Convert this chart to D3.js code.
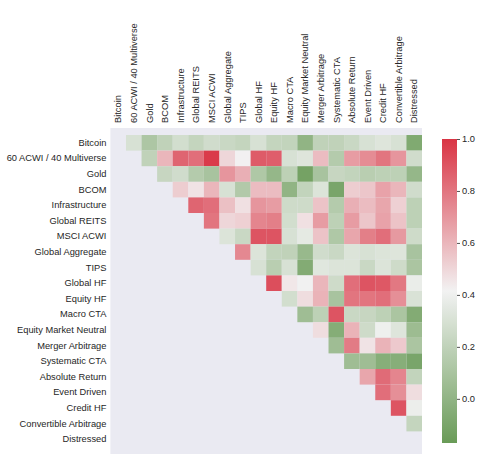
<!DOCTYPE html>
<html>
<head>
<meta charset="utf-8">
<script src="https://cdn.jsdelivr.net/npm/d3@7"></script>
<style>
  body { margin: 0; background: #fff; }
  text { font-family: "Liberation Sans", Arial, sans-serif; }
</style>
</head>
<body>
<svg id="chart"></svg>
<script>
// asset names, same order on both axes
const assets = ["Bitcoin", "60 ACWI / 40 Multiverse", "Gold", "BCOM", "Infrastructure",
    "Global REITS", "MSCI ACWI", "Global Aggregate", "TIPS", "Global HF", "Equity HF",
    "Macro CTA", "Equity Market Neutral", "Merger Arbitrage", "Systematic CTA",
    "Absolute Return", "Event Driven", "Credit HF", "Convertible Arbitrage", "Distressed"];

// upper triangle, row i holds correlations with assets i+1 .. end
const corrRows = [
    [0.30, 0.12, 0.20, 0.28, 0.22, 0.27, 0.24, 0.22, 0.30, 0.22, 0.21, 0.00, 0.20, 0.20, 0.24, 0.30, 0.33, 0.30, -0.07],
    [0.20, 0.60, 0.85, 0.82, 0.98, 0.50, 0.42, 0.88, 0.87, 0.30, 0.33, 0.58, 0.15, 0.68, 0.73, 0.80, 0.70, 0.27],
    [0.23, 0.27, 0.15, 0.10, 0.70, 0.62, 0.13, 0.02, 0.19, -0.12, 0.10, 0.23, 0.21, 0.17, 0.19, 0.19, 0.02],
    [0.53, 0.46, 0.60, 0.30, 0.14, 0.58, 0.58, 0.00, 0.21, 0.32, -0.10, 0.53, 0.55, 0.66, 0.60, 0.27],
    [0.85, 0.82, 0.57, 0.47, 0.70, 0.68, 0.26, 0.26, 0.56, 0.15, 0.62, 0.58, 0.65, 0.52, 0.19],
    [0.80, 0.50, 0.52, 0.75, 0.77, 0.28, 0.47, 0.68, 0.19, 0.68, 0.55, 0.66, 0.56, 0.19],
    [0.32, 0.24, 0.90, 0.90, 0.30, 0.36, 0.56, 0.13, 0.65, 0.77, 0.82, 0.69, 0.26],
    [0.74, 0.32, 0.21, 0.20, 0.03, 0.27, 0.24, 0.32, 0.30, 0.32, 0.33, 0.10],
    [0.30, 0.17, 0.30, -0.06, 0.34, 0.32, 0.32, 0.24, 0.32, 0.26, 0.11],
    [0.92, 0.45, 0.41, 0.60, 0.26, 0.82, 0.90, 0.89, 0.79, 0.38],
    [0.28, 0.48, 0.61, 0.10, 0.80, 0.80, 0.82, 0.72, 0.31],
    [0.06, 0.19, 0.90, 0.24, 0.23, 0.19, 0.11, -0.06],
    [0.48, -0.05, 0.61, 0.26, 0.40, 0.33, 0.05],
    [0.06, 0.78, 0.46, 0.61, 0.54, 0.11],
    [0.06, 0.06, -0.04, -0.04, -0.10],
    [0.65, 0.83, 0.75, 0.21],
    [0.82, 0.72, 0.48],
    [0.90, 0.39],
    [0.22],
    []
];

const cbarTicks = [0.0, 0.2, 0.4, 0.6, 0.8, 1.0];

const svgWidth = 483, svgHeight = 461;
const vmin = -0.17, vmax = 1.0;

const cells = [];
corrRows.forEach((row, i) => {
    row.forEach((v, k) => {
        cells.push({ row: assets[i], col: assets[i + 1 + k], value: v });
    });
});

const svg = d3.select("#chart")
    .attr("width", svgWidth)
    .attr("height", svgHeight);

// heatmap scales
const x = d3.scaleBand().domain(assets).range([110.4, 422]);
const y = d3.scaleBand().domain(assets).range([128, 454]).paddingOuter(0.45);

// green - light - red colormap, light centre at the middle of the range
const mid = (vmin + vmax) / 2;
const color = d3.scaleLinear()
    .domain([vmin, mid, vmax])
    .range(["#699b57", "#f2f2f2", "#d93444"])
    .interpolate(d3.interpolateRgb)
    .clamp(true);

// axes background
svg.append("rect")
    .attr("x", 110.4)
    .attr("y", 128)
    .attr("width", 422 - 110.4)
    .attr("height", 454 - 128)
    .attr("fill", "#eaeaf2");

svg.append("g")
    .selectAll("rect")
    .data(cells)
    .join("rect")
    .attr("x", d => x(d.col))
    .attr("y", d => y(d.row))
    .attr("width", x.bandwidth())
    .attr("height", y.bandwidth())
    .attr("fill", d => color(d.value));

// row labels
const yAxis = svg.append("g")
    .attr("transform", "translate(110.4,0)")
    .call(d3.axisLeft(y).tickSize(0).tickPadding(4));
yAxis.select(".domain").remove();

// column labels, vertical
const xAxis = svg.append("g")
    .attr("transform", "translate(0,128)")
    .call(d3.axisTop(x).tickSize(0));
xAxis.select(".domain").remove();
xAxis.selectAll(".tick text")
    .attr("transform", "rotate(-90)")
    .attr("x", 5)
    .attr("y", 0)
    .attr("dy", "0.35em")
    .attr("text-anchor", "start");

svg.selectAll(".tick text")
    .attr("font-size", 9.3)
    .attr("font-family", "'Liberation Sans', Arial, sans-serif")
    .attr("fill", "#262626");

// colorbar
const cb = d3.scaleLinear().domain([vmin, vmax]).range([443, 139]);
const defs = svg.append("defs");
const grad = defs.append("linearGradient")
    .attr("id", "cbar")
    .attr("x1", 0).attr("y1", 1)
    .attr("x2", 0).attr("y2", 0);
d3.range(0, 1.0001, 0.05).forEach(t => {
    grad.append("stop")
        .attr("offset", t)
        .attr("stop-color", color(vmin + t * (vmax - vmin)));
});

svg.append("rect")
    .attr("x", 442)
    .attr("y", 139)
    .attr("width", 15)
    .attr("height", 443 - 139)
    .attr("fill", "url(#cbar)");

const cAxis = svg.append("g")
    .attr("transform", "translate(457,0)")
    .call(d3.axisRight(cb).tickValues(cbarTicks).tickFormat(d3.format(".1f")).tickSize(3).tickPadding(2));
cAxis.select(".domain").remove();
cAxis.selectAll(".tick line").attr("stroke", "#262626").attr("stroke-width", 0.8);
cAxis.selectAll(".tick text")
    .attr("font-size", 9.3)
    .attr("font-family", "'Liberation Sans', Arial, sans-serif")
    .attr("fill", "#262626");
</script>
</body>
</html>
